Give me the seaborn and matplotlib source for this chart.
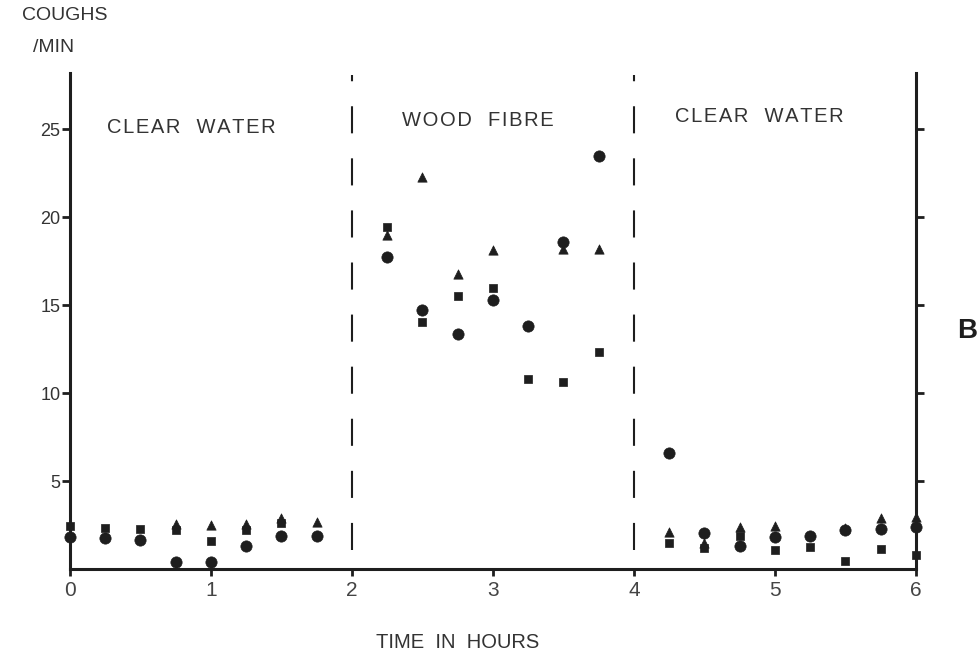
import numpy as np
import pandas as pd
import matplotlib
matplotlib.use("Agg")
import matplotlib.pyplot as plt
import seaborn as sns

nan = np.nan

# Sampling times (hours)
times = [0.0, 0.25, 0.5, 0.75, 1.0, 1.25, 1.5, 1.75,
         2.25, 2.5, 2.75, 3.0, 3.25, 3.5, 3.75,
         4.25, 4.5, 4.75, 5.0, 5.25, 5.5, 5.75, 6.0]

# Coughs per minute for the three fish
fish_circle = [1.8, 1.75, 1.65, 0.4, 0.4, 1.3, 1.85, 1.85,
               17.75, 14.7, 13.35, 15.3, 13.8, 18.6, 23.5,
               6.6, 2.05, 1.3, 1.8, 1.9, 2.2, 2.25, 2.4]
fish_square = [2.45, 2.35, 2.3, 2.2, 1.6, 2.2, 2.6, nan,
               19.45, 14.05, 15.5, 16.0, 10.8, 10.65, 12.35,
               1.45, 1.2, 1.9, 1.1, 1.25, 0.45, 1.15, 0.8]
fish_triangle = [nan, nan, nan, 2.55, 2.5, 2.55, 2.9, 2.65,
                 19.0, 22.3, 16.8, 18.15, nan, 18.2, 18.2,
                 2.1, 1.5, 2.4, 2.45, nan, 2.35, 2.9, 2.95]

phase_labels = ["CLEAR  WATER", "WOOD  FIBRE", "CLEAR  WATER"]
phase_label_x = [0.86, 2.89, 4.89]
phase_label_y = [25.1, 25.5, 25.7]
phase_bounds = [2, 4]

x_ticks = [0, 1, 2, 3, 4, 5, 6]
y_ticks = [5, 10, 15, 20, 25]


def spaced(s):
    """Open up the letter spacing with hair spaces."""
    return "\u200a".join(s)


df = pd.DataFrame({"time": times * 3,
                   "coughs": fish_triangle + fish_square + fish_circle,
                   "fish": ["triangle"] * len(times) + ["square"] * len(times)
                           + ["circle"] * len(times)})

sns.set_style("ticks")
plt.rcParams["font.family"] = ["Liberation Sans", "DejaVu Sans"]

ink = "#1e1e1e"
txt = "#333333"
fig = plt.figure(figsize=(9.78, 6.54), dpi=100)
ax = fig.add_axes([70 / 978, 1 - 569 / 654, 846 / 978, 496 / 654])

marker_styles = {"triangle": ("^", 45), "square": ("s", 32), "circle": ("o", 66)}
for name, (mk, size) in marker_styles.items():
    sub = df[df["fish"] == name].dropna()
    sns.scatterplot(data=sub, x="time", y="coughs", marker=mk, s=size,
                    color=ink, edgecolor=ink, linewidth=0.5, ax=ax,
                    clip_on=False, zorder=3, legend=False)

for xb in phase_bounds:
    ax.vlines(xb, 1.1, 28.1, colors=ink, linewidth=1.5,
              linestyles=[(0, (13, 12))])

for lbl, lx, ly in zip(phase_labels, phase_label_x, phase_label_y):
    ax.text(lx, ly, spaced(lbl), ha="center", va="center", fontsize=14.5,
            color=txt)

ax.set_xlim(0, 6)
ax.set_ylim(0, 28.2)
ax.set_xticks(x_ticks)
ax.set_xticklabels([str(v) for v in x_ticks], fontsize=15, color="#444444")
ax.set_yticks(y_ticks)
ax.set_yticklabels([str(v) for v in y_ticks], fontsize=13, color=txt)
ax.tick_params(axis="y", direction="out", length=6, width=2, color=ink,
               pad=1, right=True)
ax.tick_params(axis="x", direction="out", length=5, width=2, color=ink, pad=4)
ax.set_xlabel("")
ax.set_ylabel("")

for side in ["left", "right", "bottom"]:
    ax.spines[side].set_linewidth(2.2)
    ax.spines[side].set_color(ink)
ax.spines["top"].set_visible(False)

fig.text(22 / 978, 1 - 16 / 654, "COUGHS", fontsize=14, color=txt,
         ha="left", va="center")
fig.text(33 / 978, 1 - 48 / 654, "/MIN", fontsize=14, color=txt,
         ha="left", va="center")
fig.text(458 / 978, 1 - 642 / 654, "TIME  IN  HOURS", fontsize=14.5,
         color=txt, ha="center", va="center")
fig.text(967 / 978, 1 - 331 / 654, "B", fontsize=20, fontweight="bold",
         color=ink, ha="center", va="center")

fig.savefig("out.png", dpi=100, facecolor="white")
